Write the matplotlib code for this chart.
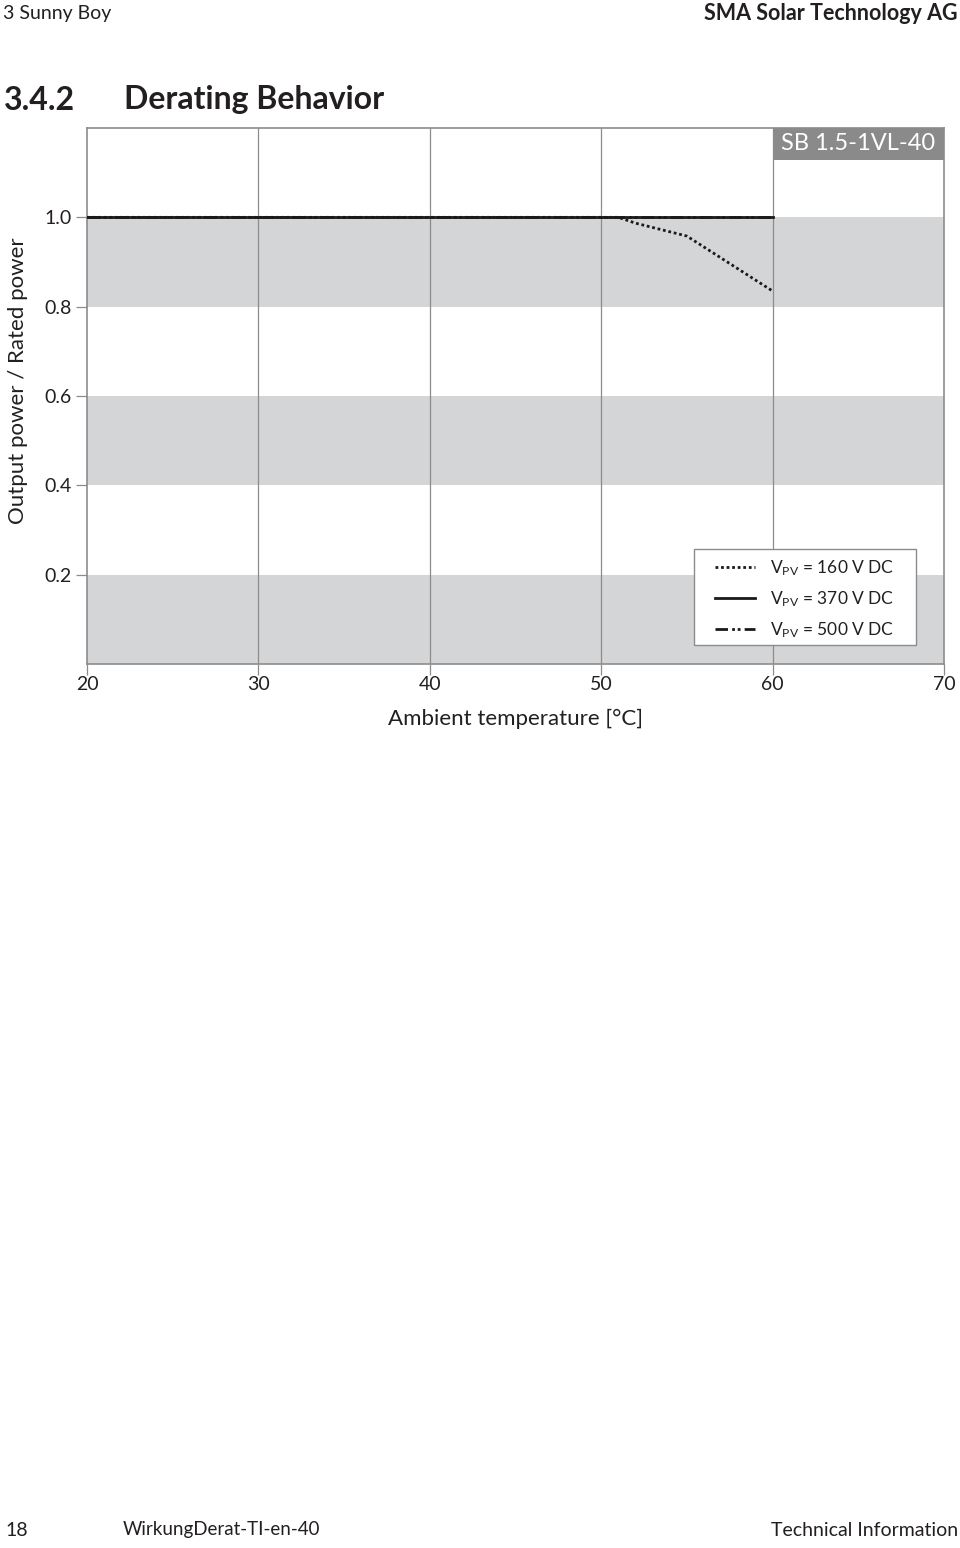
import matplotlib
matplotlib.use("Agg")
import matplotlib.pyplot as plt
from matplotlib.lines import Line2D
from matplotlib.patches import Rectangle

plt.rcParams['font.family'] = ['Lato', 'DejaVu Sans']
plt.rcParams['mathtext.fontset'] = 'custom'
plt.rcParams['mathtext.rm'] = 'Lato'
plt.rcParams['mathtext.it'] = 'Lato'

# ---- data ----
temp_160 = [20, 51, 52, 55, 60]
power_160 = [1.0, 1.0, 0.987, 0.958, 0.835]
temp_370 = [20, 60]
power_370 = [1.0, 1.0]
temp_500 = [20, 60]
power_500 = [1.0, 1.0]
x_ticks = [20, 30, 40, 50, 60, 70]
y_ticks = [0.2, 0.4, 0.6, 0.8, 1.0]
y_tick_labels = ["0.2", "0.4", "0.6", "0.8", "1.0"]
bands = [(0.0, 0.2), (0.4, 0.6), (0.8, 1.0)]
legend_labels = ["V$_{\\rm PV}$ = 160 V DC", "V$_{\\rm PV}$ = 370 V DC", "V$_{\\rm PV}$ = 500 V DC"]

W, H = 960, 1548
AXL, AXR, AXT, AXB = 87, 944, 128, 664
AW, AH = AXR - AXL, AXB - AXT
fig = plt.figure(figsize=(W / 100, H / 100), dpi=100)
ax = fig.add_axes([AXL / W, 1 - AXB / H, AW / W, AH / H])

ax.set_xlim(20, 70)
ax.set_ylim(0, 1.2)

band_color = '#d4d5d7'
for lo, hi in bands:
    ax.axhspan(lo, hi, color=band_color, lw=0, zorder=0)

for xv in x_ticks[1:-1]:
    ax.axvline(xv, color='#8c8c8c', lw=0.9, zorder=1)

gray = '#8c8c8c'
for s in ax.spines.values():
    s.set_color(gray)
    s.set_linewidth(1.2)

ax.set_xticks(x_ticks)
ax.set_xticklabels([str(v) for v in x_ticks])
ax.set_yticks(y_ticks)
ax.set_yticklabels(y_tick_labels)
ax.tick_params(axis='both', direction='out', length=8, width=0.9, color=gray,
               labelsize=14, labelcolor='#231f20')
ax.tick_params(axis='x', pad=1)
ax.tick_params(axis='y', pad=3)

lw = 2.0
dashdotdot = (0, (4.5, 1.5, 1, 1, 1, 1.5))
ax.plot(temp_500, power_500, color='#1a1a1a', lw=lw, linestyle=dashdotdot, zorder=3)
ax.plot(temp_370, power_370, color='#1a1a1a', lw=lw, linestyle='-', zorder=4)
ax.plot(temp_160, power_160, color='#1a1a1a', lw=lw, linestyle=(0, (1, 1)), zorder=5)

ax.set_xlabel("Ambient temperature [°C]", fontsize=16, color='#231f20', labelpad=11)
fig.text(18 / W, 1 - 381 / H, "Output power / Rated power", fontsize=16, color='#231f20',
         rotation=90, ha='center', va='center')

# model box
ax.add_patch(Rectangle((0.8, 1 - 32 / AH), 0.2, 32 / AH, transform=ax.transAxes,
                       facecolor='#8a8a8a', edgecolor='none', zorder=6, clip_on=False))
ax.text(0.9, 1 - 16 / AH, "SB 1.5-1VL-40", transform=ax.transAxes, ha='center', va='center',
        color='white', fontsize=17, zorder=7)

# legend frame
ax.add_patch(Rectangle(((694 - AXL) / AW, (AXB - 645) / AH), (916 - 694) / AW, (645 - 549) / AH,
                       transform=ax.transAxes, facecolor='white', edgecolor='#8c8c8c',
                       lw=1.0, zorder=8))
handles = [
    Line2D([], [], color='#1a1a1a', lw=lw, linestyle=(0, (1, 1))),
    Line2D([], [], color='#1a1a1a', lw=lw, linestyle='-'),
    Line2D([], [], color='#1a1a1a', lw=lw, linestyle=dashdotdot),
]
leg = ax.legend(handles, legend_labels, loc='upper left',
                bbox_to_anchor=((715 - AXL) / AW, (AXB - 558) / AH),
                fontsize=12.5, frameon=False, handlelength=2.3, handletextpad=0.85,
                labelspacing=0.66, borderpad=0, borderaxespad=0)
for t in leg.get_texts():
    t.set_color('#231f20')
leg.set_zorder(9)

# page texts
tc = '#231f20'
fig.text(3 / W, 1 - 13 / H, "3 Sunny Boy", fontsize=14, color=tc, ha='left', va='center')
fig.text(958 / W, 1 - 13 / H, "SMA Solar Technology AG", fontsize=15.5, color=tc, ha='right',
         va='center', fontweight='bold')
fig.text(4 / W, 1 - 100 / H, "3.4.2", fontsize=23, color=tc, ha='left', va='center', fontweight='bold')
fig.text(124 / W, 1 - 100 / H, "Derating Behavior", fontsize=23, color=tc, ha='left', va='center',
         fontweight='bold')
fig.text(5 / W, 1 - 1530 / H, "18", fontsize=14, color=tc, ha='left', va='center')
fig.text(123 / W, 1 - 1530 / H, "WirkungDerat-TI-en-40", fontsize=13.5, color=tc, ha='left', va='center')
fig.text(958 / W, 1 - 1530 / H, "Technical Information", fontsize=14, color=tc, ha='right', va='center')

fig.savefig("out.png", dpi=100)
